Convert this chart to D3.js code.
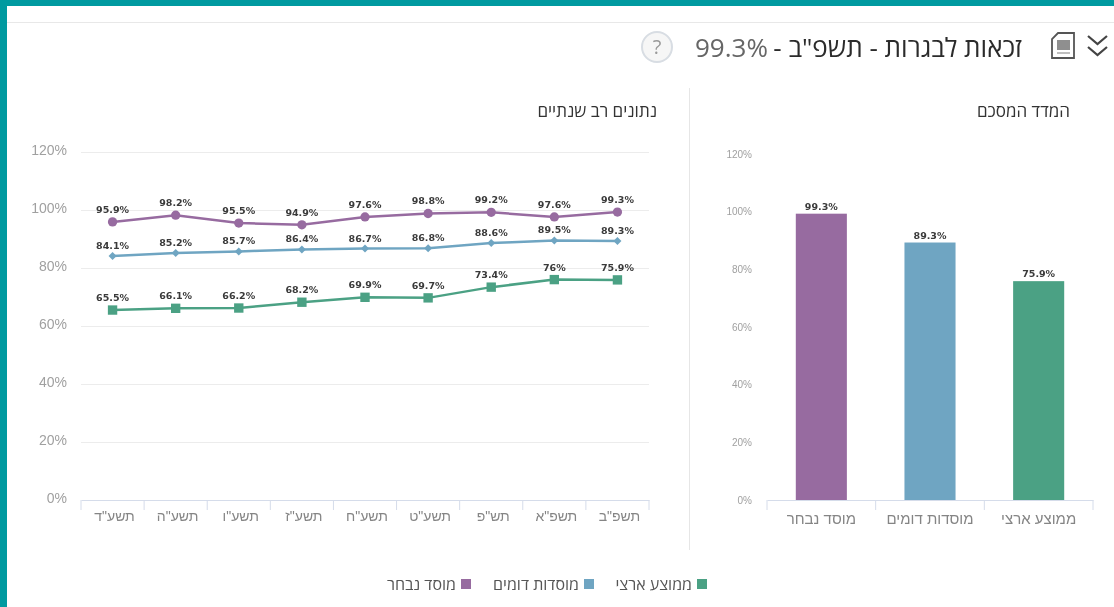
<!DOCTYPE html>
<html lang="he">
<head>
<meta charset="utf-8">
<script src="https://cdn.jsdelivr.net/npm/d3@7"></script>
<style>
    html, body { margin: 0; padding: 0; background: #fff; }
    svg { display: block; font-family: "Open Sans", "Noto Sans", "Liberation Sans", sans-serif; filter: blur(0.45px); }
    .rtl { direction: rtl; }
    .val { font-family: "DejaVu Sans", sans-serif; font-weight: bold; font-size: 9.5px; fill: #3a3a3a; }
</style>
</head>
<body>
<svg id="chart" width="1114" height="607"></svg>
<script>
// Data
const years = ['תשע"ד', 'תשע"ה', 'תשע"ו', 'תשע"ז', 'תשע"ח', 'תשע"ט', 'תש"פ', 'תשפ"א', 'תשפ"ב'];
const selected = [95.9, 98.2, 95.5, 94.9, 97.6, 98.8, 99.2, 97.6, 99.3];
const similar = [84.1, 85.2, 85.7, 86.4, 86.7, 86.8, 88.6, 89.5, 89.3];
const national = [65.5, 66.1, 66.2, 68.2, 69.9, 69.7, 73.4, 76, 75.9];
const summaryNames = ["מוסד נבחר", "מוסדות דומים", "ממוצע ארצי"];
const summaryValues = [99.3, 89.3, 75.9];
const yTicks = [0, 20, 40, 60, 80, 100, 120];

const purple = "#976ba0", blue = "#6fa5c2", green = "#4ba184";
const seriesColors = [purple, blue, green];

const svg = d3.select("#chart");

// page frame
svg.append("rect").attr("width", 1114).attr("height", 6).attr("fill", "#009aa0");
svg.append("rect").attr("width", 7).attr("height", 607).attr("fill", "#009aa0");
svg.append("line").attr("x1", 7).attr("x2", 1114).attr("y1", 22.5).attr("y2", 22.5).attr("stroke", "#e8e8e8");
svg.append("line").attr("x1", 689.5).attr("x2", 689.5).attr("y1", 88).attr("y2", 550).attr("stroke", "#e6e6e6");

// header
svg.append("text").attr("class", "rtl").attr("x", 1022).attr("y", 57)
    .attr("font-size", 26).attr("fill", "#2b2b2b").text('זכאות לבגרות - תשפ"ב -');
svg.append("text").attr("x", 695).attr("y", 57).attr("font-size", 26).attr("fill", "#666").text("99.3%");
svg.append("circle").attr("cx", 657).attr("cy", 47).attr("r", 15).attr("fill", "#f6f6f6").attr("stroke", "#d8dde3").attr("stroke-width", 2);
svg.append("text").attr("x", 657).attr("y", 54).attr("text-anchor", "middle").attr("font-size", 20).attr("fill", "#999").text("?");

// document icon and double chevron
svg.append("path").attr("d", "M1058 33h16v25h-22v-19z").attr("fill", "#fff").attr("stroke", "#555").attr("stroke-width", 1.8);
svg.append("rect").attr("x", 1057).attr("y", 40).attr("width", 13).attr("height", 10).attr("fill", "#8f8f8f");
svg.append("line").attr("x1", 1057).attr("x2", 1070).attr("y1", 53).attr("y2", 53).attr("stroke", "#aaa").attr("stroke-width", 1.5);
svg.append("path").attr("d", "M1088 36l9.500 8l9.500-8M1088 47l9.500 8l9.500-8").attr("fill", "none").attr("stroke", "#444").attr("stroke-width", 2.2);

// panel titles
svg.append("text").attr("class", "rtl").attr("x", 657).attr("y", 117).attr("font-size", 17).attr("fill", "#333").text("נתונים רב שנתיים");
svg.append("text").attr("class", "rtl").attr("x", 1070).attr("y", 117).attr("font-size", 17).attr("fill", "#333").text("המדד המסכם");

// shared axis drawing: grid, y labels, band axis with ticks on the band edges
function drawAxes(g, x, y, opts) {
    const [x0, x1] = x.range();
    const yAxis = d3.axisLeft(y).tickValues(yTicks).tickSize(0).tickPadding(x0 - opts.labelRight).tickFormat(d => d + "%");
    const gy = g.append("g").attr("transform", `translate(${x0},0)`).call(yAxis);
    gy.select(".domain").remove();
    gy.selectAll("text").attr("font-size", opts.yFont).attr("font-family", "inherit").attr("fill", "#a0a0a0").attr("dy", opts.yDy);

    if (opts.grid) {
        g.append("g").selectAll("line").data(yTicks.filter(d => d > 0)).join("line")
            .attr("x1", x0).attr("x2", x1)
            .attr("y1", d => y(d) + 0.5).attr("y2", d => y(d) + 0.5)
            .attr("stroke", "#ececec");
    }

    const gx = g.append("g").attr("transform", `translate(0,${y(0)})`)
        .call(d3.axisBottom(x).tickSize(0).tickPadding(opts.xPad));
    gx.select(".domain").attr("stroke", "#d5dcea");
    gx.selectAll("text").attr("font-size", opts.xFont).attr("font-family", "inherit").attr("fill", "#858585")
        .attr("dx", opts.xDx);

    const edges = x.domain().map(d => x(d) - x.step() * x.paddingInner() / 2).concat(x1);
    g.append("g").selectAll("line").data(edges).join("line")
        .attr("x1", d => d).attr("x2", d => d)
        .attr("y1", y(0)).attr("y2", y(0) + 10)
        .attr("stroke", "#d5dcea");
}

// left chart: multi year lines
const lineX = d3.scaleBand().domain(years).range([81, 649]);
const lineY = d3.scaleLinear().domain([0, 120]).range([500, 152]);
const gLine = svg.append("g");
drawAxes(gLine, lineX, lineY, {labelRight: 67, yFont: 14, yDy: "0.2em", xFont: 14, xPad: 11, xDx: 2, grid: true});

const cx = i => lineX(years[i]) + lineX.bandwidth() / 2;
const path = d3.line().x((d, i) => cx(i)).y(d => lineY(d));
const symbols = [d3.symbolCircle, d3.symbolSquare, d3.symbolSquare];
const symbolSizes = [68, 32, 88];
const symbolTurn = [0, 45, 0];
const labelOffsets = [-9, -7, -9];

[selected, similar, national].forEach((values, s) => {
    const g = gLine.append("g");
    g.append("path").datum(values).attr("fill", "none").attr("stroke", seriesColors[s]).attr("stroke-width", 2.5).attr("d", path);
    g.selectAll("path.pt").data(values).join("path").attr("class", "pt")
        .attr("d", d3.symbol(symbols[s], symbolSizes[s]))
        .attr("fill", seriesColors[s])
        .attr("transform", (d, i) => `translate(${cx(i)},${lineY(d)}) rotate(${symbolTurn[s]})`);
    g.selectAll("text").data(values).join("text").attr("class", "val")
        .attr("text-anchor", "middle")
        .attr("x", (d, i) => cx(i))
        .attr("y", d => lineY(d) + labelOffsets[s])
        .text(d => d + "%");
});

// right chart: summary bars
const barX = d3.scaleBand().domain(summaryNames).range([767, 1093]).paddingInner(0).paddingOuter(0);
const barY = d3.scaleLinear().domain([0, 120]).range([500, 154]);
const gBar = svg.append("g");
drawAxes(gBar, barX, barY, {labelRight: 752, yFont: 10, yDy: "0.32em", xFont: 15, xPad: 13, xDx: 0, grid: false});

const barWidth = barX.bandwidth() * 0.47;
gBar.selectAll("rect").data(summaryValues).join("rect")
    .attr("x", (d, i) => barX(summaryNames[i]) + (barX.bandwidth() - barWidth) / 2)
    .attr("width", barWidth)
    .attr("y", d => barY(d))
    .attr("height", d => barY(0) - barY(d))
    .attr("fill", (d, i) => seriesColors[i]);
gBar.selectAll("text.val").data(summaryValues).join("text").attr("class", "val")
    .attr("text-anchor", "middle")
    .attr("x", (d, i) => barX(summaryNames[i]) + barX.bandwidth() / 2)
    .attr("y", d => barY(d) - 4)
    .text(d => d + "%");

// legend
const legendX = d3.scaleOrdinal().domain(summaryNames).range([471, 594, 707]);
const legend = svg.append("g").selectAll("g").data(summaryNames).join("g")
    .attr("transform", d => `translate(${legendX(d)},584)`);
legend.append("rect").attr("x", -10).attr("y", -5).attr("width", 10).attr("height", 10)
    .attr("fill", (d, i) => seriesColors[i]);
legend.append("text").attr("class", "rtl").attr("x", -15).attr("y", 6)
    .attr("font-size", 16).attr("fill", "#555").text(d => d);
</script>
</body>
</html>
